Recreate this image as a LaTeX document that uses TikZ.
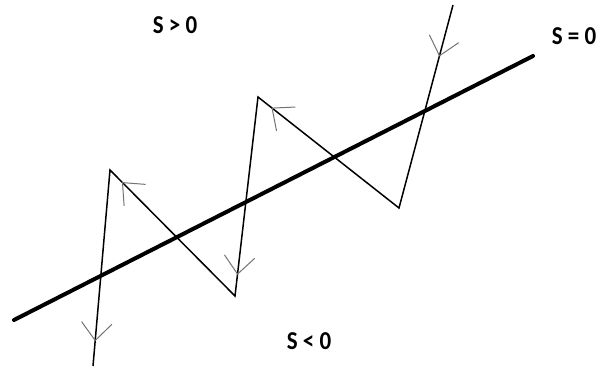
\documentclass[tikz,border=0pt]{standalone}
\usepackage{fontspec}
\setmainfont{Carlito}
\usetikzlibrary{decorations.markings}
\tikzset{
  surface/.style={line width=4pt, line cap=round},
  traj/.style={line width=1.5pt, black},
  barb/.style={line width=1pt, black!55},
  midarrow/.style={postaction={decorate}, decoration={markings,
    mark=at position #1 with {\draw[barb] (-17.6pt,15.2pt) -- (0,0) -- (-17.6pt,-15.2pt);}}},
  lbl/.style={font=\fontsize{23}{23}\selectfont\bfseries, inner sep=0pt, yscale=1.12}
}
\begin{document}
\begin{tikzpicture}[x=1pt, y=-1pt]
\useasboundingbox (0,0) rectangle (600,369);
% sliding surface
\coordinate (s1) at (14,320);
\coordinate (s2) at (533,56);
\draw[surface] (s1) -- (s2);
% trajectory vertices
\coordinate (p0) at (453,5);
\coordinate (p1) at (399,208);
\coordinate (p2) at (258,97);
\coordinate (p3) at (235,296);
\coordinate (p4) at (110,170);
\coordinate (p5) at (93,366);
\draw[traj, line join=miter] (p0) -- (p1) -- (p2) -- (p3) -- (p4) -- (p5);
\path[midarrow=0.25] (p0) -- (p1);
\path[midarrow=0.9] (p1) -- (p2);
\path[midarrow=0.89] (p2) -- (p3);
\path[midarrow=0.9] (p3) -- (p4);
\path[midarrow=0.87] (p4) -- (p5);
% labels
\node[lbl] (pos) at (175,25) {S > 0};
\node[lbl] (zero) at (574,36) {S = 0};
\node[lbl] (neg) at (309,341) {S < 0};
\end{tikzpicture}
\end{document}
